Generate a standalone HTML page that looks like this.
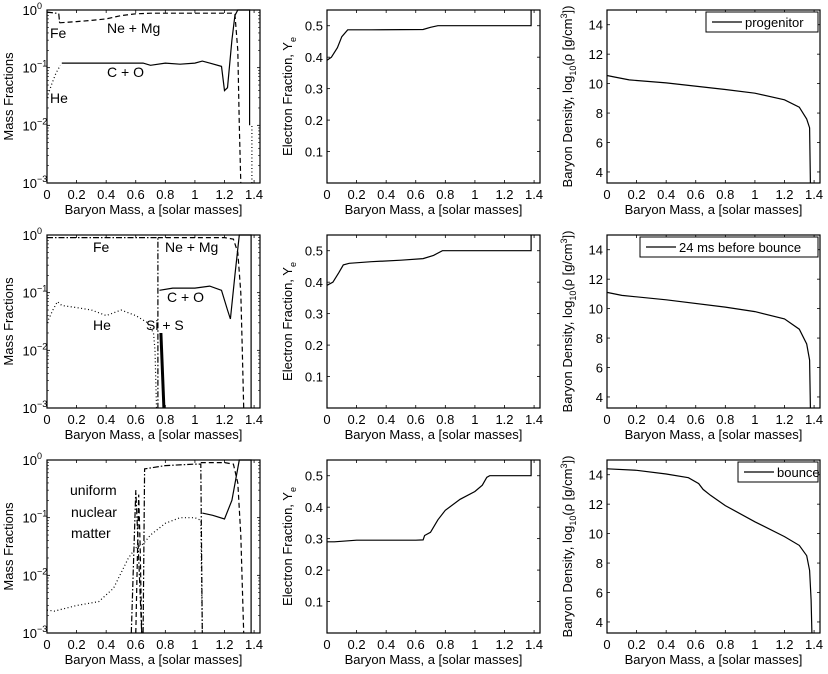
<!DOCTYPE html>
<html><head><meta charset="utf-8"><style>
html,body{margin:0;padding:0;background:#fff;}
svg{display:block;font-family:"Liberation Sans",Arial,sans-serif;}
</style></head><body>
<svg id="fig" width="828" height="674" viewBox="0 0 828 674" xmlns="http://www.w3.org/2000/svg"></svg>
<script>
// ---- data ----
const xTicks=[0,0.2,0.4,0.6,0.8,1,1.2,1.4];
const xTickLabels=["0","0.2","0.4","0.6","0.8","1","1.2","1.4"];
const yeTicks=[0.1,0.2,0.3,0.4,0.5];
const rhoTicks=[4,6,8,10,12,14];
const logTicks=[-3,-2,-1,0];
const legendLabels=["progenitor","24 ms before bounce","bounce"];

// Row 1 mass fractions
const r1FeX=[0,0.03,0.06,0.08,0.085];
const r1FeY=[0.92,0.9,0.88,0.85,0.6];
const r1NeX=[0.085,0.2,0.3,0.4,0.5,0.6,0.7,1.0,1.2,1.25,1.27,1.29,1.30,1.31];
const r1NeY=[0.6,0.63,0.66,0.7,0.8,0.86,0.88,0.88,0.88,0.88,0.85,0.2,0.01,0.001];
const r1COX=[0.1,0.3,0.65,0.7,0.8,0.9,1.0,1.05,1.1,1.18,1.2,1.22,1.25,1.27,1.29,1.37,1.37];
const r1COY=[0.12,0.12,0.12,0.11,0.12,0.115,0.12,0.13,0.12,0.105,0.04,0.045,0.3,0.8,1.0,1.0,0.01];
const r1HeX=[0,0.03,0.06,0.09];
const r1HeY=[0.03,0.05,0.08,0.11];
// Row 2
const r2FeX=[0,0.3,0.6,0.74,0.75,0.75];
const r2FeY=[0.9,0.9,0.9,0.9,0.9,0.001];
const r2NeX=[0.75,0.9,1.1,1.2,1.26,1.29,1.31,1.32,1.33];
const r2NeY=[0.9,0.9,0.9,0.9,0.85,0.5,0.1,0.01,0.001];
const r2COX=[0.76,0.85,1.0,1.1,1.18,1.22,1.24,1.27,1.3,1.38,1.38];
const r2COY=[0.11,0.12,0.12,0.13,0.11,0.05,0.035,0.2,1.0,1.0,0.001];
const r2HeX=[0,0.04,0.07,0.1,0.2,0.3,0.4,0.5,0.6,0.68,0.72,0.73,0.74];
const r2HeY=[0.03,0.05,0.07,0.06,0.055,0.05,0.04,0.05,0.04,0.03,0.02,0.01,0.001];
const r2SiX=[0.77,0.79];
const r2SiY=[0.02,0.001];
// Row 3
const r3DotX=[0,0.05,0.2,0.35,0.45,0.55,0.6,0.65,0.7,0.8,0.9,1.0,1.04,1.05];
const r3DotY=[0.0025,0.0024,0.003,0.0035,0.006,0.02,0.03,0.035,0.05,0.08,0.1,0.1,0.09,0.001];
const r3DdAX=[0.57,0.6,0.62,0.64];
const r3DdAY=[0.001,0.3,0.02,0.001];
const r3DdBX=[0.65,0.66,0.8,1.0,1.04,1.05];
const r3DdBY=[0.001,0.7,0.8,0.85,0.85,0.001];
const r3DashAX=[0.6,0.62,0.63,0.64];
const r3DashAY=[0.001,0.25,0.03,0.001];
const r3DashBX=[1.04,1.2,1.26,1.29,1.31,1.33];
const r3DashBY=[0.9,0.9,0.85,0.4,0.05,0.001];
const r3COX=[1.05,1.12,1.2,1.25,1.3,1.38,1.38];
const r3COY=[0.12,0.11,0.095,0.2,1.0,1.0,0.001];
// Electron fraction
const ye1X=[0,0.03,0.07,0.1,0.14,0.3,0.65,0.7,0.75,1.38,1.38];
const ye1Y=[0.39,0.40,0.43,0.465,0.487,0.487,0.488,0.495,0.5,0.5,0.55];
const ye2X=[0,0.04,0.08,0.11,0.15,0.3,0.5,0.65,0.72,0.78,1.38,1.38];
const ye2Y=[0.39,0.40,0.43,0.455,0.46,0.465,0.47,0.475,0.485,0.5,0.5,0.55];
const ye3X=[0,0.05,0.2,0.6,0.65,0.66,0.7,0.75,0.8,0.9,1.0,1.05,1.08,1.1,1.38,1.38];
const ye3Y=[0.29,0.29,0.295,0.295,0.296,0.31,0.32,0.36,0.39,0.425,0.45,0.47,0.495,0.5,0.5,0.55];
// Density
const rho1X=[0,0.05,0.15,0.4,0.8,1.0,1.2,1.3,1.35,1.37,1.375];
const rho1Y=[10.55,10.45,10.25,10.05,9.6,9.35,8.9,8.4,7.6,7.0,3.25];
const rho2X=[0,0.1,0.4,0.8,1.0,1.2,1.3,1.35,1.37,1.375];
const rho2Y=[11.1,10.9,10.6,10.1,9.8,9.3,8.6,7.6,6.5,3.25];
const rho3X=[0,0.2,0.4,0.55,0.62,0.65,0.7,0.8,1.0,1.2,1.3,1.35,1.37,1.38,1.385];
const rho3Y=[14.4,14.3,14.05,13.8,13.4,13.0,12.6,11.9,10.8,9.8,9.2,8.5,7.5,5.5,3.25];

// ---- drawing ----
const NS="http://www.w3.org/2000/svg";
const svg=document.getElementById('fig');
const colL=[47,327,607], W=213;
const rowT=[10,235,460], H=173;
const XMAX=1.44;
function mk(tag,attrs,parent){const e=document.createElementNS(NS,tag);for(const k in attrs)e.setAttribute(k,attrs[k]);(parent||svg).appendChild(e);return e;}
function xs(c){return v=>colL[c]+v/XMAX*W;}
function ysLog(r){return v=>rowT[r]+H*(0-Math.log10(v))/3;}
function ysLin(r,lo,hi){return v=>rowT[r]+H*(hi-v)/(hi-lo);}

function axes(c,r,yt,yfun,ylabelFn,isLog){
  const g=mk('g',{});
  
  
  const L=colL[c],T=rowT[r],B=T+H,R=L+W;
  const fx=xs(c);
  xTicks.forEach((v,i)=>{
    const x=fx(v);
    mk('line',{x1:x,x2:x,y1:B,y2:B-3,stroke:'#000','stroke-width':0.8},g);
    mk('line',{x1:x,x2:x,y1:T,y2:T+3,stroke:'#000','stroke-width':0.8},g);
    const t=mk('text',{x:x,y:B+16,'font-size':13,'text-anchor':'middle'},g);
    t.textContent=xTickLabels[i];
    
    
  });
  const xl=mk('text',{x:(L+R)/2,y:B+31,'font-size':13,'text-anchor':'middle'},g);
  xl.textContent='Baryon Mass, a [solar masses]';
  
  
  yt.forEach(v=>{
    const y=yfun(isLog?Math.pow(10,v):v);
    mk('line',{x1:L,x2:L+3,y1:y,y2:y,stroke:'#000','stroke-width':0.8},g);
    mk('line',{x1:R,x2:R-3,y1:y,y2:y,stroke:'#000','stroke-width':0.8},g);
    const t=mk('text',{x:L-4,y:y+5,'font-size':13,'text-anchor':'end'},g);
    
    
    if(isLog){
      t.setAttribute('x',L-10);
      t.textContent='10';
      const s=mk('text',{x:L-10,y:y-1,'font-size':9,'text-anchor':'start'},g);
      s.textContent=v===0?'0':'\u2212'+(-v);
      
      
    } else t.textContent=String(v);
    if(isLog&&v<0){for(let k=2;k<10;k++){const yy=yfun(k*Math.pow(10,v));mk('line',{x1:L,x2:L+2,y1:yy,y2:yy,stroke:'#000','stroke-width':0.6},g);mk('line',{x1:R,x2:R-2,y1:yy,y2:yy,stroke:'#000','stroke-width':0.6},g);}}
  });
  const fr=mk('rect',{x:L,y:T,width:W,height:H,fill:'none',stroke:'#000','stroke-width':1.2},g);
  
  
  ylabelFn(g,L,T);
  return g;
}
function line(g,c,yfun,X,Y,name,dash,w){
  const fx=xs(c);
  const p=X.map((v,i)=>fx(v).toFixed(1)+','+yfun(Y[i]).toFixed(1)).join(' ');
  const pl=mk('polyline',{points:p,fill:'none',stroke:'#000','stroke-width':w||1.2,'stroke-dasharray':dash||'none'},g);
  
  
}
function note(g,x,y,txt,name){
  const t=mk('text',{x:x,y:y,'font-size':14},g);
  t.textContent=txt;
  
  
}
function ylabMass(g,L,T){
  const t=mk('text',{transform:'translate(13,'+(T+H/2)+') rotate(-90)','font-size':13,'text-anchor':'middle'},g);
  t.textContent='Mass Fractions';
  
  
}
function ylabYe(g,L,T){
  const t=mk('text',{transform:'translate(292,'+(T+H/2)+') rotate(-90)','font-size':13,'text-anchor':'middle'},g);
  t.innerHTML='Electron Fraction, Y<tspan font-size="9" dy="4">e</tspan>';
  
  
}
function ylabRho(g,L,T){
  const t=mk('text',{transform:'translate(572,'+(T+H/2)+') rotate(-90)','font-size':13,'text-anchor':'middle'},g);
  t.innerHTML='Baryon Density, log<tspan font-size="9" dy="4">10</tspan><tspan dy="-4">(ρ [g/cm</tspan><tspan font-size="9" dy="-5">3</tspan><tspan dy="5">])</tspan>';
  
  
}
const DD='6,2,1.5,2', DA='5,3', DT='1,2.5';
// column 1
for(let r=0;r<3;r++){
  const yf=ysLog(r);
  const g=axes(0,r,logTicks,yf,ylabMass,true);
  if(r===0){
    line(g,0,yf,r1FeX,r1FeY,'fe-line',DD);
    line(g,0,yf,r1NeX,r1NeY,'ne-mg-line',DA);
    line(g,0,yf,r1COX,r1COY,'c-o-line');
    line(g,0,yf,r1HeX,r1HeY,'he-line',DT);
    line(g,0,yf,[1.385,1.385],[0.001,0.01],'he-edge-line',DT);
    note(g,50,38,'Fe','fe-label');note(g,107,33,'Ne + Mg','ne-mg-label');
    note(g,107,77,'C + O','c-o-label');note(g,50,103,'He','he-label');
  } else if(r===1){
    line(g,0,yf,r2FeX,r2FeY,'fe-line',DD);
    line(g,0,yf,r2NeX,r2NeY,'ne-mg-line',DA);
    line(g,0,yf,r2COX,r2COY,'c-o-line');
    line(g,0,yf,r2HeX,r2HeY,'he-line',DT);
    line(g,0,yf,r2SiX,r2SiY,'si-s-line','none',3);
    note(g,93,252,'Fe','fe-label');note(g,165,252,'Ne + Mg','ne-mg-label');
    note(g,167,302,'C + O','c-o-label');note(g,93,330,'He','he-label');
    note(g,146,330,'Si + S','si-s-label');
  } else {
    line(g,0,yf,r3DotX,r3DotY,'he-line',DT);
    line(g,0,yf,r3DdAX,r3DdAY,'fe-line-a',DD);
    line(g,0,yf,r3DdBX,r3DdBY,'fe-line-b',DD);
    line(g,0,yf,r3DashAX,r3DashAY,'ne-mg-line-a',DA);
    line(g,0,yf,r3DashBX,r3DashBY,'ne-mg-line-b',DA);
    line(g,0,yf,r3COX,r3COY,'c-o-line');
    note(g,70,495,'uniform','uniform-label');note(g,71,517,'nuclear','nuclear-label');
    note(g,71,538,'matter','matter-label');
  }
}
// column 2
const yeX=[ye1X,ye2X,ye3X], yeY=[ye1Y,ye2Y,ye3Y];
for(let r=0;r<3;r++){
  const yf=ysLin(r,0,0.55);
  const g=axes(1,r,yeTicks,yf,ylabYe,false);
  line(g,1,yf,yeX[r],yeY[r],'ye-line');
}
// column 3
const rhoX=[rho1X,rho2X,rho3X], rhoY=[rho1Y,rho2Y,rho3Y];
const legW=[112,178,80];
for(let r=0;r<3;r++){
  const yf=ysLin(r,3.25,15);
  const g=axes(2,r,rhoTicks,yf,ylabRho,false);
  line(g,2,yf,rhoX[r],rhoY[r],'density-line');
  const R=colL[2]+W-2, T=rowT[r]+2;
  const lg=mk('g',{},g);
  
  
  mk('rect',{x:R-legW[r],y:T,width:legW[r],height:20,fill:'#fff',stroke:'#000','stroke-width':1},lg);
  mk('line',{x1:R-legW[r]+6,x2:R-legW[r]+36,y1:T+10,y2:T+10,stroke:'#000','stroke-width':1.2},lg);
  const t=mk('text',{x:R-legW[r]+39,y:T+15,'font-size':13},lg);
  t.textContent=legendLabels[r];
  
  
}
</script>
</body></html>
